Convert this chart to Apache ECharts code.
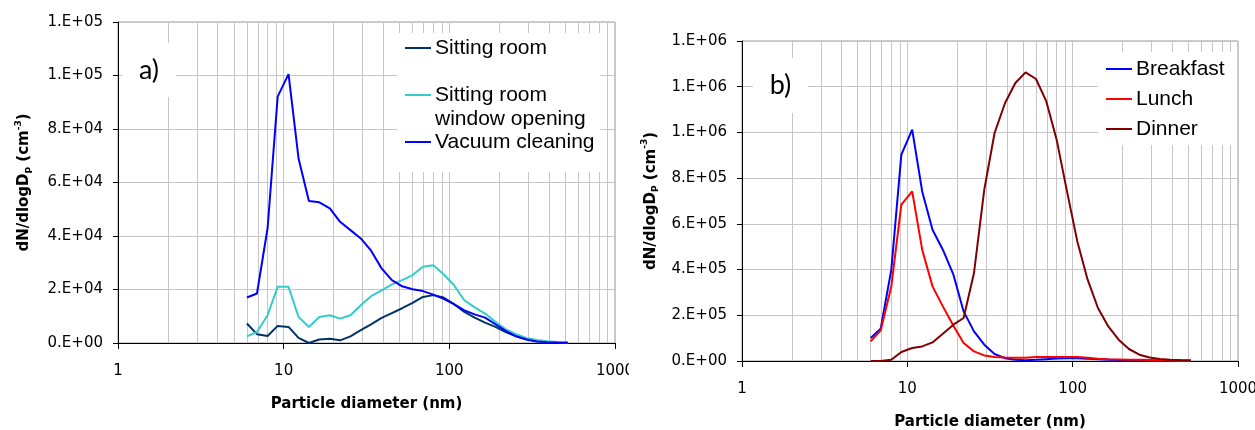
<!DOCTYPE html>
<html>
<head>
<meta charset="utf-8">
<script src="https://cdn.jsdelivr.net/npm/echarts@6/dist/echarts.min.js"></script>
<style>
  html, body { margin: 0; padding: 0; background: #fff; }
  #wrap { position: relative; width: 1255px; height: 430px; overflow: hidden; }
  #chartA { position: absolute; left: 0; top: 0; width: 629px; height: 430px; overflow: hidden; }
  #chartB { position: absolute; left: 629px; top: 0; width: 626px; height: 430px; overflow: hidden; }
</style>
</head>
<body>
<div id="wrap"><div id="chartA"></div><div id="chartB"></div></div>
<script>
// Particle size bins (nm), shared by both panels
const diameters = [6.0, 6.9, 8.0, 9.2, 10.7, 12.3, 14.2, 16.4, 19.0, 21.9, 25.3, 29.2,
  33.7, 39.0, 45.0, 51.9, 60.0, 69.3, 80.0, 92.4, 106.7, 123.2, 142.2, 164.3,
  189.7, 219.0, 253.0, 292.0, 337.0, 390.0, 450.0, 519.0];

// Panel a) indoor activities, dN/dlogDp (cm^-3)
const namesA = ['Sitting room', 'Sitting room\nwindow opening', 'Vacuum cleaning'];
const colorsA = ['#003366', '#33cccc', '#0000ff'];
const sittingRoom = [7300, 3300, 2600, 6400, 6000, 1900, 0, 1300, 1600, 1000, 2500, 4800,
  7000, 9400, 11200, 13000, 15000, 17200, 17900, 17000, 14500, 11600, 9500, 7600,
  6000, 4100, 2500, 1400, 700, 300, 150, 50];
const windowOpening = [2500, 4100, 10400, 21000, 21000, 9700, 6000, 9700, 10400, 9100, 10400, 14100,
  17500, 19700, 21900, 23500, 25400, 28500, 29100, 25700, 21600, 16000, 13300, 11000,
  7900, 5100, 3300, 1900, 1100, 700, 400, 200];
const vacuumCleaning = [17000, 18500, 43000, 92100, 100500, 69000, 53100, 52600, 50300, 45300, 42200, 39100,
  34500, 27900, 23500, 21200, 20100, 19400, 18100, 16500, 14500, 12200, 10700, 9500,
  7000, 4500, 2500, 1300, 600, 300, 150, 50];

// Panel b) cooking, dN/dlogDp (cm^-3)
const namesB = ['Breakfast', 'Lunch', 'Dinner'];
const colorsB = ['#0000ff', '#ff0000', '#800000'];
const breakfast = [100600, 141300, 399500, 902600, 1012000, 742000, 574500, 487000, 377600, 217000, 129500, 71300,
  30600, 12000, 5000, 3000, 5000, 8000, 11000, 12000, 12000, 10000, 8000, 6000,
  4000, 3000, 2000, 1500, 1000, 800, 500, 300];
const lunch = [85800, 133900, 326400, 683900, 742000, 487000, 326400, 238900, 154500, 78800, 42000, 24500,
  17500, 15000, 14000, 14000, 17000, 18000, 18000, 18000, 18000, 14000, 10000, 8000,
  7000, 6000, 5000, 4000, 3000, 2000, 1500, 1000];
const dinner = [0, 0, 5700, 39400, 56900, 63900, 81400, 119400, 158800, 188100, 385000, 749500,
  997600, 1128800, 1216300, 1262700, 1233800, 1135800, 968300, 742000, 523300, 355700, 231900, 151400,
  93200, 52500, 27600, 15700, 8700, 6000, 4000, 3500];

// Axis tick labels
const xTickLabels = ['1', '10', '100', '1000'];
const minorGridX = [2, 3, 4, 5, 6, 7, 8, 9, 20, 30, 40, 50, 60, 70, 80, 90, 200, 300, 400, 500, 600, 700, 800, 900];
const yTickLabelsA = ['0.E+00', '2.E+04', '4.E+04', '6.E+04', '8.E+04', '1.E+05', '1.E+05'];
const yTickLabelsB = ['0.E+00', '2.E+05', '4.E+05', '6.E+05', '8.E+05', '1.E+06', '1.E+06', '1.E+06'];
const yStepA = 20000, yStepB = 200000;

const TICK_FONT = 'DejaVu Sans';
const GRID_COLOR = '#c6c6c6';

function buildOption(cfg) {
  const series = cfg.values.map((vals, i) => ({
    type: 'line',
    name: cfg.names[i],
    data: diameters.map((d, j) => [d, vals[j]]),
    symbol: 'none',
    lineStyle: { color: cfg.colors[i], width: 2 },
    itemStyle: { color: cfg.colors[i] },
    z: 3,
    animation: false
  }));
  // minor vertical grid lines at 2..9 of each decade
  series.push({
    type: 'line',
    data: [],
    silent: true,
    markLine: {
      silent: true,
      z: 1,
      animation: false,
      symbol: ['none', 'none'],
      label: { show: false },
      lineStyle: { color: GRID_COLOR, width: 1, type: 'solid' },
      data: minorGridX.map(v => ({ xAxis: v }))
    }
  });

  // legend and panel tag, drawn as boxes with real text
  const g = [];
  g.push({ type: 'rect', z: 2, shape: cfg.legendBox, style: { fill: '#fff' } });
  cfg.legendRows.forEach((y, i) => {
    g.push({ type: 'line', z: 4, shape: { x1: cfg.legendX, y1: y, x2: cfg.legendX + 26, y2: y },
      style: { stroke: cfg.colors[i], lineWidth: 2 } });
    g.push({ type: 'text', z: 4, x: cfg.legendX + 30, y: y - 12,
      style: { text: cfg.names[i], fill: '#000', font: '21px "Liberation Sans", Arial, sans-serif',
        lineHeight: 24, verticalAlign: 'top', textAlign: 'left' } });
  });
  g.push({ type: 'rect', z: 2, shape: cfg.tagBox, style: { fill: '#fff' } });
  g.push({ type: 'text', z: 4, x: cfg.tagBox.x + cfg.tagBox.width / 2, y: cfg.tagBox.y + cfg.tagBox.height / 2,
    style: { text: cfg.tag, fill: '#000', font: '27px Lato, "Liberation Sans", sans-serif',
      textAlign: 'center', verticalAlign: 'middle' } });

  return {
    animation: false,
    backgroundColor: '#fff',
    grid: Object.assign({ show: true, borderColor: '#9a9a9a', borderWidth: 1, backgroundColor: 'transparent',
      containLabel: false, outerBoundsMode: 'none' }, cfg.grid),
    xAxis: {
      type: 'log', logBase: 10, min: 1, max: 1000,
      name: 'Particle diameter (nm)', nameLocation: 'middle', nameGap: 54,
      nameTextStyle: { fontFamily: TICK_FONT, fontWeight: 'bold', fontSize: 15, color: '#000' },
      axisLine: { show: true, lineStyle: { color: '#000', width: 1 } },
      axisTick: { show: true, length: 6, lineStyle: { color: '#000' } },
      axisLabel: { margin: 21, fontFamily: TICK_FONT, fontSize: 15, color: '#000',
        formatter: v => xTickLabels[Math.round(Math.log10(v))] },
      splitLine: { show: true, lineStyle: { color: GRID_COLOR, width: 1 } },
      minorTick: { show: false }, minorSplitLine: { show: false }
    },
    yAxis: {
      type: 'value', min: 0, max: cfg.yStep * (cfg.yLabels.length - 1), interval: cfg.yStep,
      name: '{t|dN/dlogD}{s|P}{t| (cm}{u|-3}{t|)}', nameLocation: 'middle', nameGap: cfg.yNameGap,
      nameTextStyle: {
        fontFamily: TICK_FONT, fontWeight: 'bold', fontSize: 15, color: '#000',
        rich: {
          t: { fontFamily: TICK_FONT, fontWeight: 'bold', fontSize: 15, color: '#000', lineHeight: 20 },
          s: { fontFamily: TICK_FONT, fontWeight: 'bold', fontSize: 9, color: '#000', verticalAlign: 'bottom', lineHeight: 20 },
          u: { fontFamily: TICK_FONT, fontWeight: 'bold', fontSize: 9, color: '#000', verticalAlign: 'top', lineHeight: 20 }
        }
      },
      axisLine: { show: true, lineStyle: { color: '#000', width: 1 } },
      axisTick: { show: true, length: 5, lineStyle: { color: '#000' } },
      axisLabel: { margin: 15, fontFamily: TICK_FONT, fontSize: 15, color: '#000',
        formatter: v => cfg.yLabels[Math.round(v / cfg.yStep)] },
      splitLine: { show: true, lineStyle: { color: GRID_COLOR, width: 1 } }
    },
    graphic: g,
    series: series
  };
}

const chartA = echarts.init(document.getElementById('chartA'), null, { renderer: 'canvas' });
chartA.setOption(buildOption({
  names: namesA, colors: colorsA, values: [sittingRoom, windowOpening, vacuumCleaning],
  grid: { left: 118, right: 14, top: 22, bottom: 87 },
  yLabels: yTickLabelsA, yStep: yStepA, yNameGap: 84,
  legendBox: { x: 397, y: 33, width: 203, height: 139 },
  legendX: 405, legendRows: [48, 95, 142],
  tagBox: { x: 122, y: 43, width: 54, height: 54 }, tag: 'a)'
}));

const chartB = echarts.init(document.getElementById('chartB'), null, { renderer: 'canvas' });
chartB.setOption(buildOption({
  names: namesB, colors: colorsB, values: [breakfast, lunch, dinner],
  grid: { left: 113, right: 17, top: 41, bottom: 69 },
  yLabels: yTickLabelsB, yStep: yStepB, yNameGap: 72,
  legendBox: { x: 469, y: 52, width: 139, height: 93 },
  legendX: 477, legendRows: [69, 99, 129],
  tagBox: { x: 124, y: 58, width: 55, height: 55 }, tag: 'b)'
}));
</script>
</body>
</html>
